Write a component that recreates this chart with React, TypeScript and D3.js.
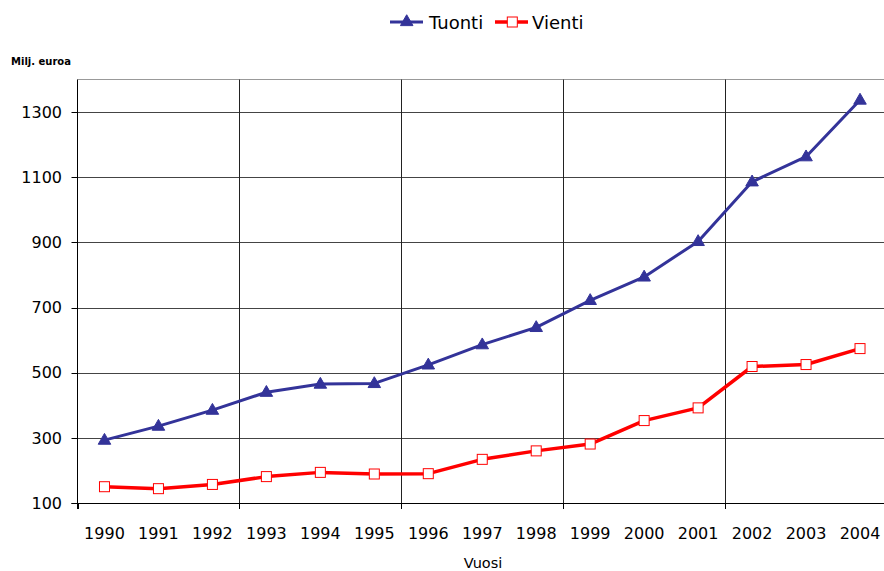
import React from "react";
import * as d3 from "d3";

const years = ["1990","1991","1992","1993","1994","1995","1996","1997","1998","1999","2000","2001","2002","2003","2004"];
const tuonti = [293, 336, 385, 440, 465, 467, 524, 586, 639, 722, 794, 903, 1086, 1163, 1337];
const vienti = [150, 144, 157, 181, 194, 189, 190, 234, 260, 281, 353, 392, 519, 525, 574];
const yTicks = [100, 300, 500, 700, 900, 1100, 1300];
const seriesNames = ["Tuonti", "Vienti"];

export default function App() {
  const W = 884, H = 571;
  const left = 77.5, right = 887, top = 79.5, bottom = 503;
  const x = d3.scaleBand<string>().domain(years).range([left, right]).padding(0);
  const y = d3.scaleLinear().domain([100, 1400]).range([bottom, top]);
  const cx = (i: number) => (x(years[i]) as number) + x.bandwidth() / 2;
  const lineGen = d3.line<number>().x((_, i) => cx(i)).y((d) => y(d));
  const tri = d3.symbol().type(d3.symbolTriangle).size(68)() as string;
  const font = "'DejaVu Sans', Verdana, sans-serif";
  const gridX = years.map((_, i) => i).filter((i) => i % 3 === 0 && i > 0).map((i) => x(years[i]) as number);
  const tickX = years.map((_, i) => i).filter((i) => i % 3 === 0).map((i) => x(years[i]) as number);

  return (
    <div style={{ position: "absolute", left: 0, top: 0 }}>
      <svg width={W} height={H} style={{ display: "block", background: "#fff" }}>
        {/* top border */}
        <line x1={left} x2={right} y1={top} y2={top} stroke="#999" strokeWidth={1} />
        {/* horizontal grid */}
        {yTicks.filter((t) => t > 100).map((t) => (
          <line key={t} x1={left} x2={right} y1={Math.round(y(t)) + 0.5} y2={Math.round(y(t)) + 0.5} stroke="#444" strokeWidth={1} />
        ))}
        {/* vertical grid */}
        {gridX.map((gx, i) => (
          <line key={i} x1={Math.round(gx) + 0.5} x2={Math.round(gx) + 0.5} y1={top} y2={bottom + 6} stroke="#222" strokeWidth={1} />
        ))}
        {/* axes */}
        <line x1={left} x2={left} y1={top} y2={bottom + 6} stroke="#000" strokeWidth={1} />
        <line x1={left - 6} x2={right} y1={bottom + 0.5} y2={bottom + 0.5} stroke="#000" strokeWidth={1} />
        {tickX.map((tx, i) => (
          <line key={i} x1={Math.round(tx) + 0.5} x2={Math.round(tx) + 0.5} y1={bottom} y2={bottom + 6} stroke="#000" />
        ))}
        {yTicks.map((t) => (
          <g key={t}>
            <line x1={left - 6} x2={left} y1={Math.round(y(t)) + 0.5} y2={Math.round(y(t)) + 0.5} stroke="#000" />
            <text x={62} y={y(t)} dy="0.36em" textAnchor="end" fontFamily={font} fontSize={16} fill="#000">{t}</text>
          </g>
        ))}
        {years.map((yr, i) => (
          <text key={yr} x={cx(i)} y={539} textAnchor="middle" fontFamily={font} fontSize={16} fill="#000">{yr}</text>
        ))}
        <text x={11} y={65} fontFamily={font} fontSize={10} fontWeight="bold" fill="#000">Milj. euroa</text>
        <text x={483} y={568} textAnchor="middle" fontFamily={font} fontSize={14.5} fill="#000">Vuosi</text>

        {/* series */}
        <path d={lineGen(tuonti) as string} fill="none" stroke="#333399" strokeWidth={3} strokeLinejoin="round" />
        {tuonti.map((v, i) => (
          <path key={i} d={tri} transform={`translate(${cx(i)},${y(v) + 0.5})`} fill="#333399" stroke="#333399" strokeWidth={1} />
        ))}
        <path d={lineGen(vienti) as string} fill="none" stroke="#ff0000" strokeWidth={3.5} strokeLinejoin="round" />
        {vienti.map((v, i) => (
          <rect key={i} x={cx(i) - 5} y={y(v) - 5} width={10} height={10} fill="#fff" stroke="#ff0000" strokeWidth={1} />
        ))}

        {/* legend */}
        <line x1={390} x2={423} y1={22} y2={22} stroke="#333399" strokeWidth={3} />
        <path d={tri} transform="translate(406.7,22)" fill="#333399" stroke="#333399" />
        <text x={429} y={29.3} fontFamily={font} fontSize={18} fill="#000">{seriesNames[0]}</text>
        <line x1={495} x2={528} y1={22} y2={22} stroke="#ff0000" strokeWidth={3.5} />
        <rect x={507.3} y={17} width={10} height={10} fill="#fff" stroke="#ff0000" />
        <text x={532} y={29.3} fontFamily={font} fontSize={18} fill="#000">{seriesNames[1]}</text>
      </svg>
    </div>
  );
}
